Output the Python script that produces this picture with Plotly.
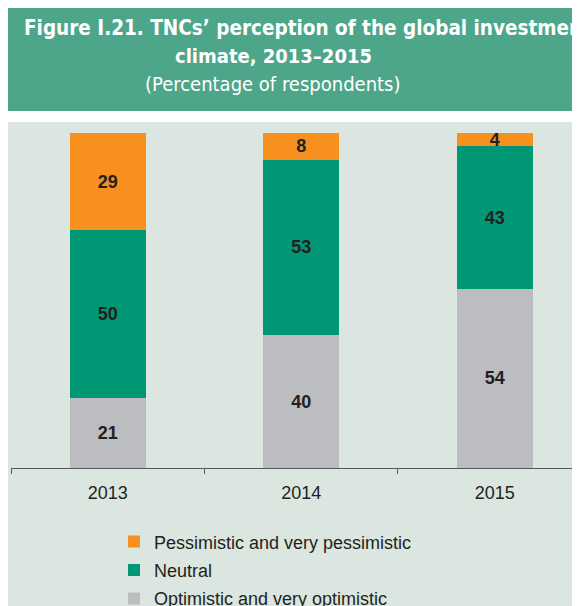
import plotly.graph_objects as go

years = ["2013", "2014", "2015"]
optimistic = [21, 40, 54]
neutral = [50, 53, 43]
pessimistic = [29, 8, 4]

series_names = ["Optimistic and very optimistic", "Neutral", "Pessimistic and very pessimistic"]
series_values = [optimistic, neutral, pessimistic]
series_colors = ["#BCBDC1", "#009775", "#F7901E"]
legend_ranks = [3, 2, 1]

title_line1 = "Figure I.21. TNCs’ perception of the global investment"
title_line2 = "climate, 2013–2015"
subtitle = "(Percentage of respondents)"

W, H = 580, 606
OFF = 8  # page body margin
L, R, T, B = 3, 0, 125, 146
pw, ph = W - L - R, H - T - B


def px(xs):
    return (xs - OFF - L) / pw


def py(ys):
    return (H - B - (ys - OFF)) / ph


NARROW = "Noto Sans ExtraCondensed, Noto Sans Condensed, DejaVu Sans Condensed, sans-serif"
SANS = "Liberation Sans, Arial, Helvetica, sans-serif"
DARK = "#231F20"

fig = go.Figure()
for name, vals, col, rk in zip(series_names, series_values, series_colors, legend_ranks):
    fig.add_trace(go.Bar(
        x=years, y=vals, name=name, legendgroup=name, legendrank=rk,
        marker=dict(color=col, line=dict(width=0)),
        text=vals, texttemplate="<b>%{text}</b>",
        textposition="inside", insidetextanchor="middle", textangle=0,
        constraintext="none",
        textfont=dict(family=SANS, size=18, color=DARK),
        hoverinfo="skip",
    ))

shapes = [
    dict(type="rect", xref="paper", yref="paper", layer="below",
         x0=px(8), x1=px(620), y0=py(122), y1=py(640),
         fillcolor="#DAE6DF", line=dict(width=0)),
    dict(type="rect", xref="paper", yref="paper", layer="below",
         x0=px(8), x1=px(620), y0=py(7), y1=py(111),
         fillcolor="#4DA68A", line=dict(width=0)),
]

annotations = [
    dict(text="<b>" + title_line1 + "</b>", xref="paper", yref="paper",
         x=px(22), y=py(28), xanchor="left", yanchor="middle", showarrow=False,
         font=dict(family=NARROW, size=20.5, color="white")),
    dict(text="<b>" + title_line2 + "</b>", xref="paper", yref="paper",
         x=px(273), y=py(56), xanchor="center", yanchor="middle", showarrow=False,
         font=dict(family=NARROW, size=20, color="white")),
    dict(text=subtitle, xref="paper", yref="paper",
         x=px(273), y=py(84), xanchor="center", yanchor="middle", showarrow=False,
         font=dict(family=NARROW, size=20, color="white")),
]

fig.update_layout(
    width=W, height=H,
    margin=dict(l=L, r=R, t=T, b=B, pad=0, autoexpand=False),
    paper_bgcolor="white", plot_bgcolor="rgba(0,0,0,0)",
    barmode="stack", barnorm="percent", bargap=0.605,
    shapes=shapes, annotations=annotations,
    showlegend=True,
    legend=dict(
        orientation="v", traceorder="grouped", tracegroupgap=2,
        x=px(114), xanchor="left", y=py(523.4), yanchor="top",
        font=dict(family=SANS, size=18, color=DARK),
        bgcolor="rgba(0,0,0,0)", borderwidth=0,
    ),
    xaxis=dict(
        type="category", range=[-0.5, 2.482], showgrid=False, zeroline=False,
        showline=True, linecolor="#58595B", linewidth=1.2,
        ticks="outside", ticklen=5, tickwidth=1.2, tickcolor="#58595B",
        tickson="boundaries", ticklabelstandoff=8,
        tickfont=dict(family=SANS, size=18, color=DARK),
        fixedrange=True,
    ),
    yaxis=dict(range=[0, 100], visible=False, showgrid=False, zeroline=False,
               fixedrange=True),
)

fig.write_html("out.html")
